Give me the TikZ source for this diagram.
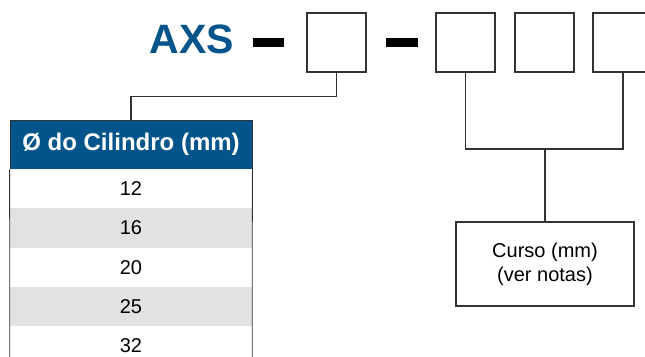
\documentclass[tikz,border=0pt]{standalone}
\usepackage{fontspec}
\setmainfont{Liberation Sans}
\usepackage{xcolor}
\usepackage{tikz}
\usetikzlibrary{positioning,calc}
\definecolor{azul}{HTML}{03548A}
\definecolor{cinza}{HTML}{E1E2E4}
\definecolor{linha}{HTML}{333333}
\tikzset{
	caixa/.style={draw=linha,line width=1.3pt,minimum width=59pt,minimum height=59pt,inner sep=0pt},
	traco/.style={fill=black,minimum width=31pt,minimum height=9pt,inner sep=0pt},
	liga/.style={draw=linha,line width=1.1pt},
	cab/.style={fill=azul,draw=linha,line width=0.8pt,text=white,minimum width=242pt,minimum height=49pt,inner sep=0pt,font=\fontsize{24}{28}\selectfont\bfseries},
	linhatab/.style={minimum width=242pt,minimum height=39.3pt,inner sep=0pt,font=\fontsize{20}{24}\selectfont}
}

\begin{document}
\begin{tikzpicture}[x=1pt,y=-1pt]
	\def\largeur{645}
	\def\hauteur{356}
\useasboundingbox (0,0) rectangle (\largeur,\hauteur);
\clip (0,0) rectangle (\largeur,\hauteur); % coupe la 4e case

%Code
\node[anchor=base east,inner sep=0pt,text=azul,font=\fontsize{41}{46}\selectfont\bfseries] (axs) at (234,53.5) {AXS};
\node[traco] (tr1) at (268.5,42) {};
\node[caixa] (bx1) at (336.5,42.5) {};
\node[traco,minimum width=32pt] (tr2) at (402,42) {};
\node[caixa] (bx2) at (465.5,42.5) {};
\node[caixa] (bx3) at (544.5,42.5) {};
\node[caixa] (bx4) at (622.5,42.5) {};

%Tableau
\node[cab] (hdr) at (131,144.5) {Ø do Cilindro (mm)};
\foreach \val/\fond [count=\i] in {12/white,16/cinza,20/white,25/cinza,32/white} {
	\node[linhatab,fill=\fond] (r\i) at (131,169+39.3*\i-19.65) {\val};
}
\draw[linha,line width=0.8pt] (hdr.south west) -- (r5.south west);
\draw[linha,line width=0.8pt] (hdr.south east) -- (r5.south east);

%Curso
\node[caixa,minimum width=178pt,minimum height=84pt,align=center,font=\fontsize{20}{24}\selectfont] (curso) at (545,264) {Curso (mm)\\(ver notas)};

%Liaisons
\draw[liga] (bx1.south) -- ++(0,24) -| (hdr.north);
\coordinate (jun) at (545,149);
\draw[liga] (bx2.south) |- (jun) -- (curso.north);
\draw[liga,line width=2pt] (jun) -| (bx4.south);

\end{tikzpicture}
\end{document}
